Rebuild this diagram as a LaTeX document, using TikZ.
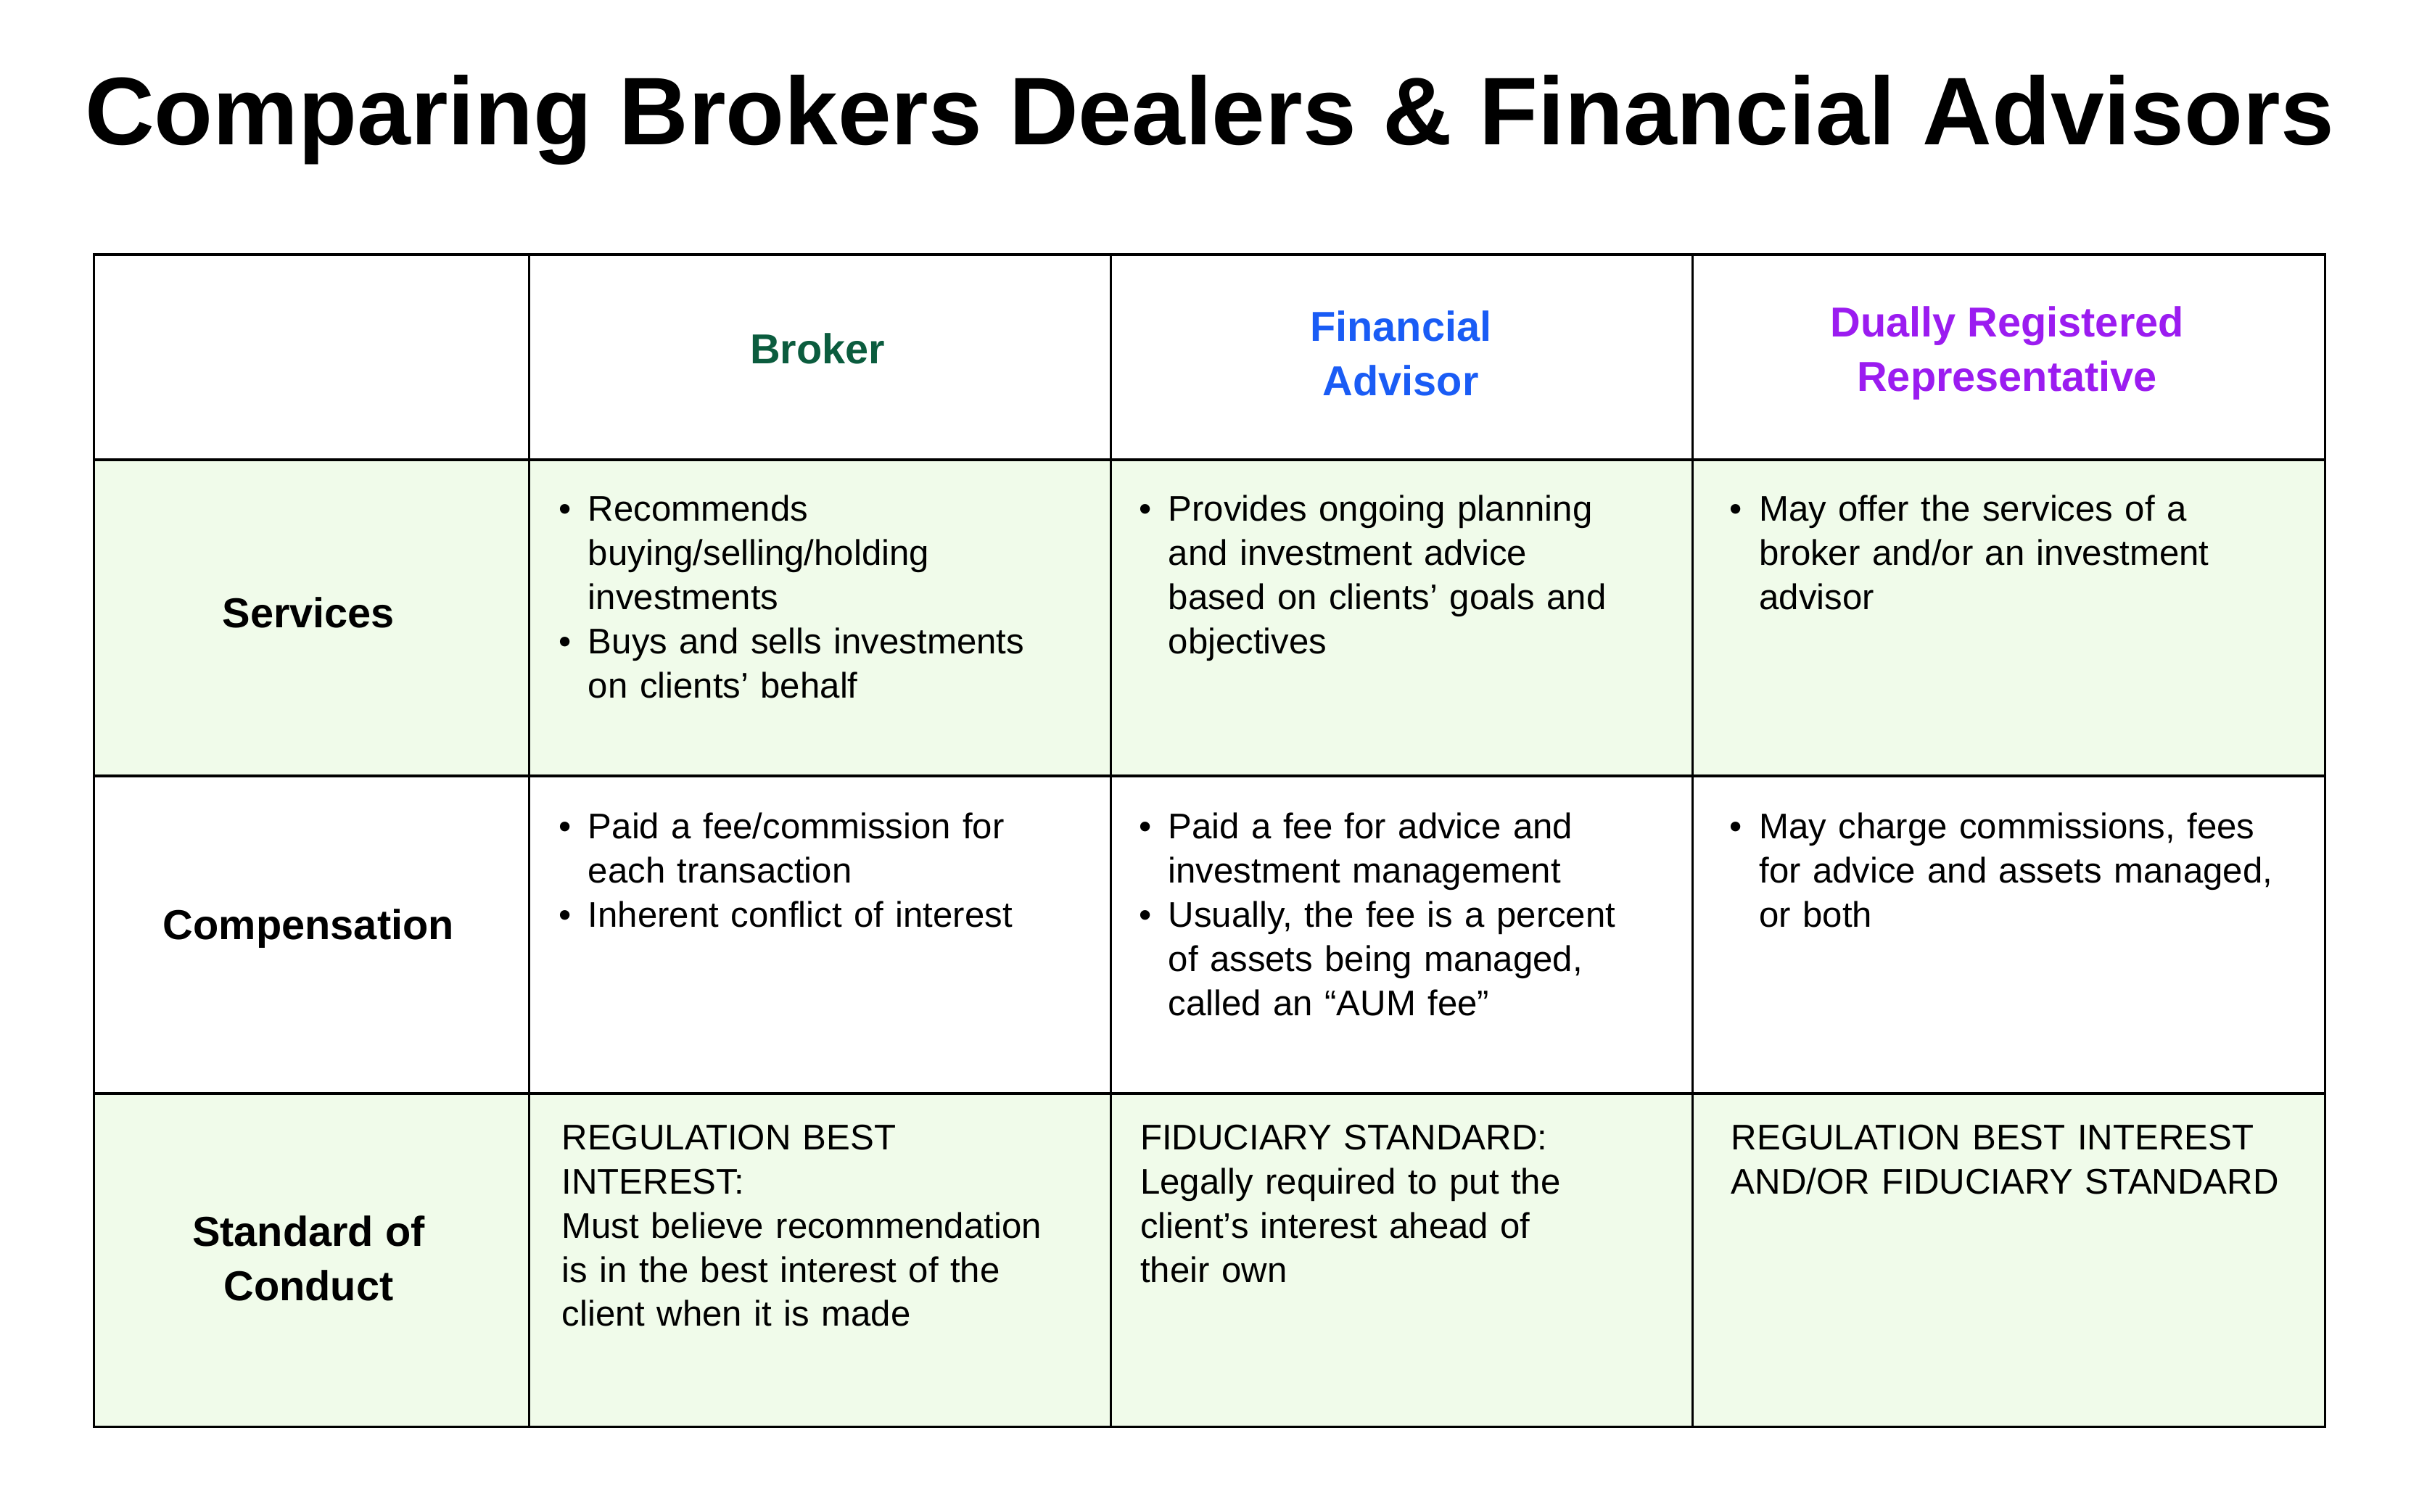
\documentclass[tikz,border=0pt]{standalone}
\usepackage{fontspec}
\setmainfont{Liberation Sans}
\definecolor{brk}{HTML}{0B5C3E}
\definecolor{fa}{HTML}{1A5CF5}
\definecolor{dr}{HTML}{9B1CF0}
\definecolor{lg}{HTML}{F0FBEA}
\newcommand{\bl}[1]{\par\noindent\hskip-19pt\hbox to 19pt{\textbullet\hfil}#1\par}
\begin{document}
\begin{tikzpicture}[x=0.995pt,y=-0.995pt,
  body/.style={anchor=north west,inner sep=0pt,text width=322pt,align=left,font=\fontsize{23}{28.5}\selectfont,execute at begin node={\hyphenpenalty=10000\exhyphenpenalty=10000}},
  bbody/.style={body,execute at begin node={\hyphenpenalty=10000\exhyphenpenalty=10000\leftskip=19pt}},
  lab/.style={font=\fontsize{27}{35}\bfseries\selectfont,align=center},
  grid/.style={line width=1.6pt}]
\useasboundingbox (0,0) rectangle (1568,980);
\node[font=\fontsize{62}{70}\bfseries\selectfont] (title) at (784,78) {Comparing Brokers Dealers \& Financial Advisors};
\fill[lg] (61,298) rectangle (1507,503);
\fill[lg] (61,709) rectangle (1507,925);
\draw[grid] (61,165) rectangle (1507,925);
\foreach \x in {343,720,1097} \draw[grid] (\x,165) -- (\x,925);
\foreach \y in {298,503,709} \draw[grid] (61,\y) -- (1507,\y);
\node[lab,text=brk] (hb) at (530,226) {Broker};
\node[lab,text=fa] (hf) at (908,229) {Financial\\Advisor};
\node[lab,text=dr] (hd) at (1301,229) {Dually Registered\\Representative};
\node[lab] (rs) at (200,397) {Services};
\node[lab] (rc) at (200,602) {Compensation};
\node[lab] (rd) at (200,816) {Standard of\\Conduct};
\node[bbody,text width=312pt] (s1) at (362,309) {\bl{Recommends buying/selling/holding investments}\bl{Buys and sells investments on clients’ behalf}};
\node[bbody,text width=335pt] (s2) at (738,309) {\bl{Provides ongoing planning and investment advice based on clients’ goals and objectives}};
\node[bbody] (s3) at (1121,309) {\bl{May offer the services of a broker and/or an investment advisor}};
\node[bbody,text width=312pt] (c1) at (362,515) {\bl{Paid a fee/commission for each transaction}\bl{Inherent conflict of interest}};
\node[bbody,text width=310pt] (c2) at (738,515) {\bl{Paid a fee for advice and investment management}\bl{Usually, the fee is a percent of assets being managed, called an “AUM fee”}};
\node[bbody,text width=365pt] (c3) at (1121,515) {\bl{May charge commissions, fees for advice and assets managed, or both}};
\node[body,text width=340pt] (d1) at (364,729) {REGULATION BEST INTEREST:\\Must believe recommendation\\is in the best interest of the\\client when it is made};
\node[body,text width=320pt] (d2) at (739,729) {FIDUCIARY STANDARD:\\Legally required to put the\\client’s interest ahead of\\their own};
\node[body,text width=370pt] (d3) at (1122,729) {REGULATION BEST INTEREST\\AND/OR FIDUCIARY STANDARD};
\end{tikzpicture}
\end{document}
